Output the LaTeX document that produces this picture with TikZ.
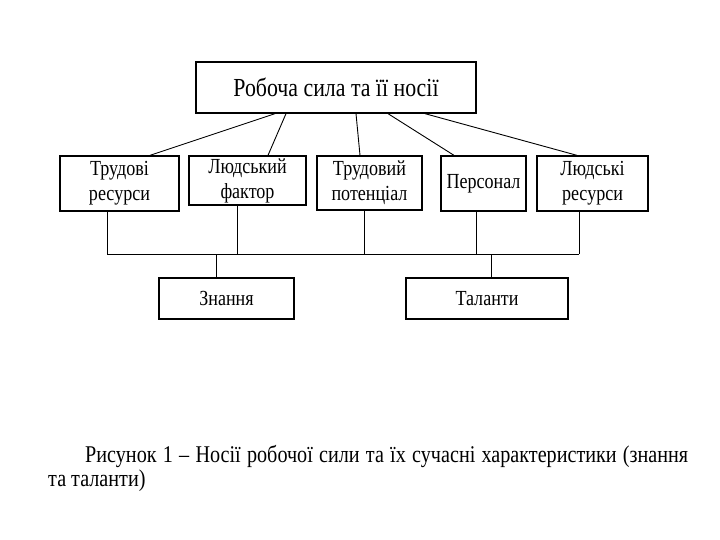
\documentclass[tikz,border=0pt]{standalone}
\usepackage{fontspec}
\setmainfont{Liberation Serif}[FakeStretch=0.84]
\begin{document}
\begin{tikzpicture}[x=1pt,y=-1pt,
  box/.style={draw,line width=1.3pt,inner sep=0pt,align=center,font=\fontsize{21.5}{25}\selectfont},
  conn/.style={line width=0.9pt}]
\useasboundingbox (0,0) rectangle (720,540);
\node[box,minimum width=280pt,minimum height=51pt,font=\fontsize{26}{30}\selectfont] (top) at (336,87.5) {Робоча сила та її носії};
\node[box,minimum width=119pt,minimum height=55pt] (b1) at (119.5,183.5) {Трудові\\ресурси};
\node[box,minimum width=117pt,minimum height=49pt] (b2) at (247.5,180.5) {Людський\\фактор};
\node[box,minimum width=105pt,minimum height=54pt] (b3) at (369.5,183) {Трудовий\\потенціал};
\node[box,minimum width=85pt,minimum height=55pt] (b4) at (483.5,183.5) {Персонал};
\node[box,minimum width=111pt,minimum height=55pt] (b5) at (592.5,183.5) {Людські\\ресурси};
\node[box,minimum width=135pt,minimum height=41pt] (k) at (226.5,298.5) {Знання};
\node[box,minimum width=162pt,minimum height=41pt] (t) at (487,298.5) {Таланти};
\coordinate (bus) at (0,254);
\draw[conn] ([xshift=-61pt]top.south) -- ([xshift=30.5pt]b1.north);
\draw[conn] ([xshift=-50pt]top.south) -- ([xshift=20.5pt]b2.north);
\draw[conn] ([xshift=20pt]top.south) -- ([xshift=-9.5pt]b3.north);
\draw[conn] ([xshift=52pt]top.south) -- ([xshift=-29.5pt]b4.north);
\draw[conn] ([xshift=89pt]top.south) -- ([xshift=-15.5pt]b5.north);
\draw[conn] ([xshift=-12.5pt]b1.south) coordinate (s1) -- (s1 |- bus) coordinate (busL);
\draw[conn] ([xshift=-10.5pt]b2.south) coordinate (s2) -- (s2 |- bus);
\draw[conn] ([xshift=-5.5pt]b3.south) coordinate (s3) -- (s3 |- bus);
\draw[conn] ([xshift=-7.5pt]b4.south) coordinate (s4) -- (s4 |- bus);
\draw[conn] ([xshift=-13.5pt]b5.south) coordinate (s5) -- (s5 |- bus) coordinate (busR);
\draw[conn] (busL) -- (busR);
\draw[conn] ([xshift=-10.5pt]k.north) coordinate (sk) -- (sk |- bus);
\draw[conn] ([xshift=4pt]t.north) coordinate (st) -- (st |- bus);
\node[anchor=north west,inner sep=0pt,text width=640pt,align=justify,font=\fontsize{24}{24}\selectfont] (cap) at (48,445)
  {\hspace*{37pt}Рисунок 1 – Носії робочої сили та їх сучасні характеристики (знання та таланти)};
\end{tikzpicture}
\end{document}
